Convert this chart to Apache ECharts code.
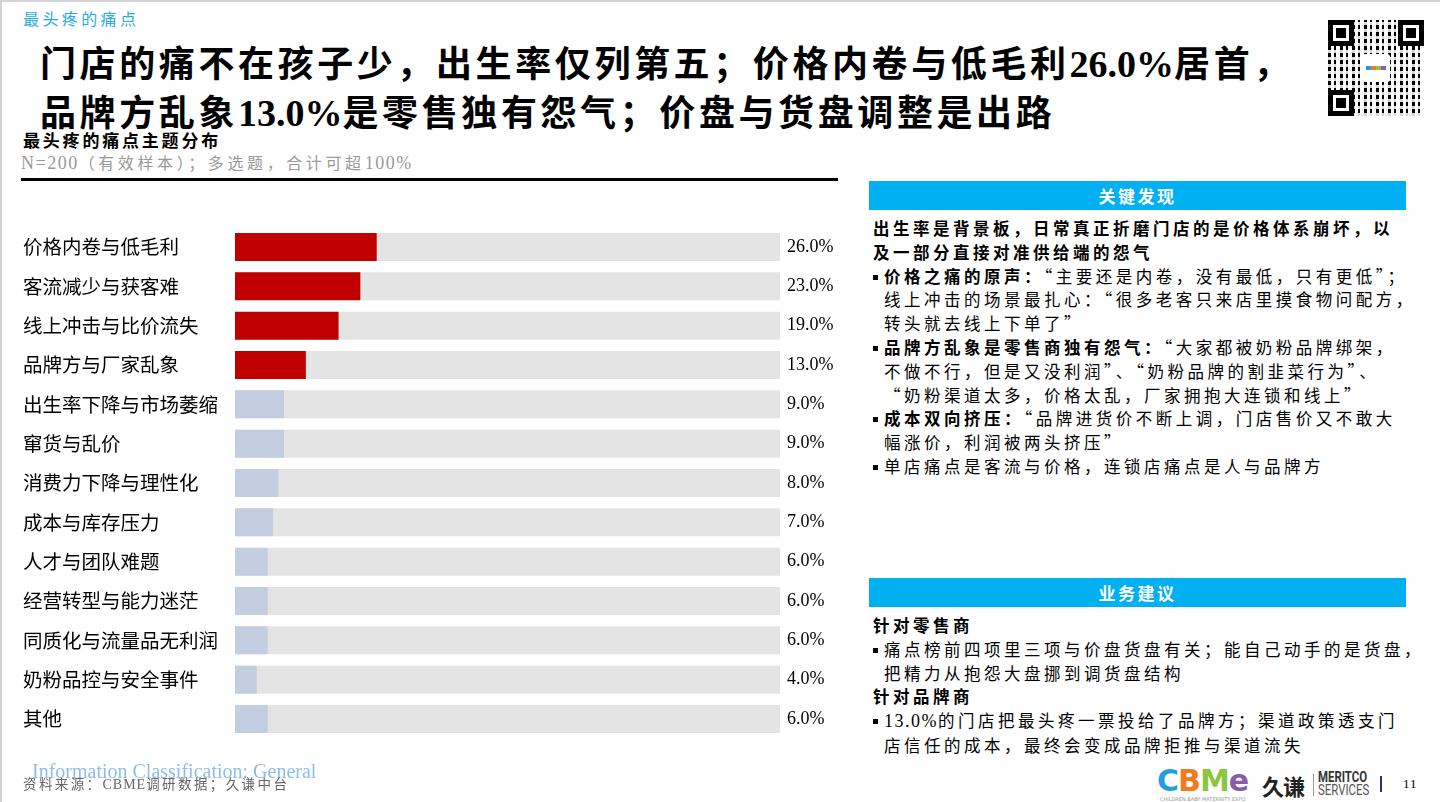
<!DOCTYPE html>
<html>
<head>
<meta charset="utf-8">
<script src="https://cdn.jsdelivr.net/npm/echarts@6/dist/echarts.min.js"></script>
<style>
  html, body { margin: 0; padding: 0; background: #fff; }
  body { width: 1440px; height: 802px; overflow: hidden; position: relative;
         font-family: "Noto Sans CJK SC", sans-serif; color: #000; }
  .frame { position: absolute; left: 0; top: 0; width: 1440px; height: 802px;
           border-top: 2px solid #d4d4d4; border-left: 2px solid #d4d4d4; box-sizing: border-box; }
  .abs { position: absolute; white-space: nowrap; }
  .section { left: 23px; top: 6px; font-size: 16px; letter-spacing: 3.4px; color: #29abe2; line-height: 24px; }
  .title { left: 40px; top: 38px; font-size: 36px; font-weight: 700; letter-spacing: 3.6px; line-height: 46px; }
  .title .num { font-family: "Liberation Serif", serif; letter-spacing: 0; font-size: 38px; }
  .subtitle { left: 23px; top: 129px; font-size: 17px; font-weight: 700; letter-spacing: 2.8px; line-height: 22px; }
  .note { left: 21px; top: 151px; font-size: 16px; color: #999; letter-spacing: 3.6px; line-height: 22px; }
  .note .lat { font-family: "Liberation Serif", serif; letter-spacing: 1.5px; font-size: 18px; }
  .rule { left: 21px; top: 178px; width: 817px; height: 3px; background: #000; }
  #chart { position: absolute; left: 0; top: 200px; width: 860px; height: 560px; }
  .panelhead { position: absolute; left: 869px; width: 537px; height: 29px; background: #00b0f0;
               color: #fff; font-weight: 700; font-size: 17px; letter-spacing: 2.5px; text-align: center; line-height: 29px; }
  .panel { position: absolute; left: 873px; width: 565px; font-size: 16.5px; letter-spacing: 3.5px; line-height: 23.8px; }
  .panel div { white-space: nowrap; }
  .panel .b { font-weight: 700; }
  .panel .li { position: relative; padding-left: 11px; }
  .panel .li::before { content: ""; position: absolute; left: 0; top: 10px; width: 5px; height: 5px; background: #000; }
  .panel .cont { padding-left: 11px; }
  .panel .lat { font-family: "Liberation Serif", serif; letter-spacing: 1.5px; font-size: 18px; }
  .info { left: 32px; top: 759px; font-family: "Liberation Serif", serif; font-size: 20px; color: #8ebcec; line-height: 24px; }
  .source { left: 23px; top: 774px; font-size: 13.5px; color: #666; letter-spacing: 2.4px; line-height: 18px; }
  .source .lat { font-family: "Liberation Serif", serif; letter-spacing: 1px; font-size: 14px; }
  .cbme { left: 1157px; top: 764px; font-family: "DejaVu Sans", sans-serif; font-weight: 700; font-size: 30px; line-height: 34px; letter-spacing: -1px; }
  .cbme-sub { left: 1160px; top: 796px; font-size: 5px; color: #999; line-height: 6px; font-family: "DejaVu Sans", sans-serif; }
  .jq { left: 1262px; top: 770px; font-size: 22px; font-weight: 700; line-height: 30px; color: #222; letter-spacing: -1px; }
  .jqbar { left: 1313px; top: 774px; width: 1px; height: 22px; background: #999; }
  .mer { left: 1318px; top: 770px; font-family: "Roboto", sans-serif; font-size: 15px; line-height: 15px; color: #333; font-weight: 700;
         transform: scaleX(0.76); transform-origin: left top; }
  .ser { left: 1318px; top: 783px; font-family: "Roboto", sans-serif; font-size: 15px; line-height: 15px; color: #555;
         transform: scaleX(0.76); transform-origin: left top; }
  .pbar { left: 1380px; top: 776px; width: 2px; height: 16px; background: #1f3864; }
  .page { left: 1403px; top: 776px; font-family: "Liberation Serif", serif; font-size: 13px; letter-spacing: 1px; line-height: 16px; }
  .qr { position: absolute; left: 1328px; top: 20px; width: 96px; height: 96px;
        background:
          repeating-linear-gradient(90deg, #000 0 3px, #fff 3px 6px, #000 6px 8px, #fff 8px 12px),
          #fff; }
  .qr .fp { position: absolute; width: 16px; height: 16px; border: 5px solid #000; background: #fff; }
  .qr .fp::after { content: ""; position: absolute; left: 3px; top: 3px; width: 10px; height: 10px; background: #000; }
  .qr .logo { position: absolute; left: 34px; top: 34px; width: 28px; height: 28px; background: #fff; border-radius: 3px; }
  .qr .logo span { position: absolute; left: 4px; top: 12px; width: 20px; height: 4px;
                   background: linear-gradient(90deg, #1ea0e0 25%, #f47920 25% 50%, #8cc63f 50% 75%, #8b5ca8 75%); }
  .qr .rows { position: absolute; left: 0; top: 0; width: 96px; height: 96px;
              background: repeating-linear-gradient(0deg, rgba(255,255,255,0.85) 0 3px, transparent 3px 7px); }
</style>
</head>
<body>
<div class="frame"></div>

<div class="abs section">最头疼的痛点</div>
<div class="abs title">门店的痛不在孩子少，出生率仅列第五；价格内卷与低毛利<span class="num">26.0%</span>居首，<br>品牌方乱象<span class="num">13.0%</span>是零售独有怨气；价盘与货盘调整是出路</div>

<div class="qr">
  <div class="rows"></div>
  <div class="fp" style="left:0;top:0"></div>
  <div class="fp" style="left:70px;top:0"></div>
  <div class="fp" style="left:0;top:70px"></div>
  <div class="logo"><span></span></div>
</div>

<div class="abs subtitle">最头疼的痛点主题分布</div>
<div class="abs note"><span class="lat">N=200</span>（有效样本）；多选题，合计可超<span class="lat">100%</span></div>
<div class="abs rule"></div>

<div id="chart"></div>

<div class="panelhead" style="top:181px">关键发现</div>
<div class="panel" style="top:217px">
  <div class="b">出生率是背景板，日常真正折磨门店的是价格体系崩坏，以</div>
  <div class="b">及一部分直接对准供给端的怨气</div>
  <div class="li"><span class="b">价格之痛的原声：</span>“主要还是内卷，没有最低，只有更低”；</div>
  <div class="cont">线上冲击的场景最扎心：“很多老客只来店里摸食物问配方，</div>
  <div class="cont">转头就去线上下单了”</div>
  <div class="li"><span class="b">品牌方乱象是零售商独有怨气：</span>“大家都被奶粉品牌绑架，</div>
  <div class="cont">不做不行，但是又没利润”、“奶粉品牌的割韭菜行为”、</div>
  <div class="cont">“奶粉渠道太多，价格太乱，厂家拥抱大连锁和线上”</div>
  <div class="li"><span class="b">成本双向挤压：</span>“品牌进货价不断上调，门店售价又不敢大</div>
  <div class="cont">幅涨价，利润被两头挤压”</div>
  <div class="li">单店痛点是客流与价格，连锁店痛点是人与品牌方</div>
</div>

<div class="panelhead" style="top:578px">业务建议</div>
<div class="panel" style="top:614px">
  <div class="b">针对零售商</div>
  <div class="li">痛点榜前四项里三项与价盘货盘有关；能自己动手的是货盘，</div>
  <div class="cont">把精力从抱怨大盘挪到调货盘结构</div>
  <div class="b">针对品牌商</div>
  <div class="li"><span class="lat">13.0%</span>的门店把最头疼一票投给了品牌方；渠道政策透支门</div>
  <div class="cont">店信任的成本，最终会变成品牌拒推与渠道流失</div>
</div>

<div class="abs info">Information Classification: General</div>
<div class="abs source">资料来源：<span class="lat">CBME</span>调研数据；久谦中台</div>

<div class="abs cbme"><span style="color:#1ea0e0">C</span><span style="color:#f47920">B</span><span style="color:#8cc63f">M</span><span style="color:#8b5ca8">e</span></div>
<div class="abs cbme-sub">CHILDREN BABY MATERNITY EXPO</div>
<div class="abs jq">久谦</div>
<div class="abs jqbar"></div>
<div class="abs mer">MERITCO</div>
<div class="abs ser">SERVICES</div>
<div class="abs pbar"></div>
<div class="abs page">11</div>

<script>
// 痛点主题及占比（%）
var categories = ['价格内卷与低毛利', '客流减少与获客难', '线上冲击与比价流失', '品牌方与厂家乱象',
    '出生率下降与市场萎缩', '窜货与乱价', '消费力下降与理性化', '成本与库存压力',
    '人才与团队难题', '经营转型与能力迷茫', '同质化与流量品无利润', '奶粉品控与安全事件', '其他'];
var values = [26.0, 23.0, 19.0, 13.0, 9.0, 9.0, 8.0, 7.0, 6.0, 6.0, 6.0, 4.0, 6.0];
var topCount = 4;     // 前四项标红
var scaleMax = 100;   // 底条 = 100%

var chart = echarts.init(document.getElementById('chart'));

var option = {
    animation: false,
    grid: { left: 235, right: 80, top: 27.3, bottom: 21.3 },
    xAxis: { type: 'value', min: 0, max: scaleMax, show: false },
    yAxis: {
        type: 'category',
        inverse: true,
        data: categories,
        axisLine: { show: false },
        axisTick: { show: false },
        axisLabel: {
            align: 'left',
            margin: 212,
            fontSize: 19.5,
            fontFamily: 'Noto Sans CJK SC',
            color: '#000'
        }
    },
    series: [
        {
            name: 'track',
            type: 'bar',
            silent: true,
            barWidth: 28,
            data: categories.map(function () { return scaleMax; }),
            itemStyle: { color: '#e4e4e4' },
            label: {
                show: true,
                position: 'right',
                distance: 7,
                fontFamily: 'Liberation Serif',
                fontSize: 18,
                color: '#000',
                formatter: function (p) { return values[p.dataIndex].toFixed(1) + '%'; }
            }
        },
        {
            name: '占比',
            type: 'bar',
            barWidth: 28,
            barGap: '-100%',
            data: values.map(function (v, i) {
                return { value: v, itemStyle: { color: i < topCount ? '#c00000' : '#c3cfe1' } };
            })
        }
    ]
};

chart.setOption(option);
</script>
</body>
</html>
